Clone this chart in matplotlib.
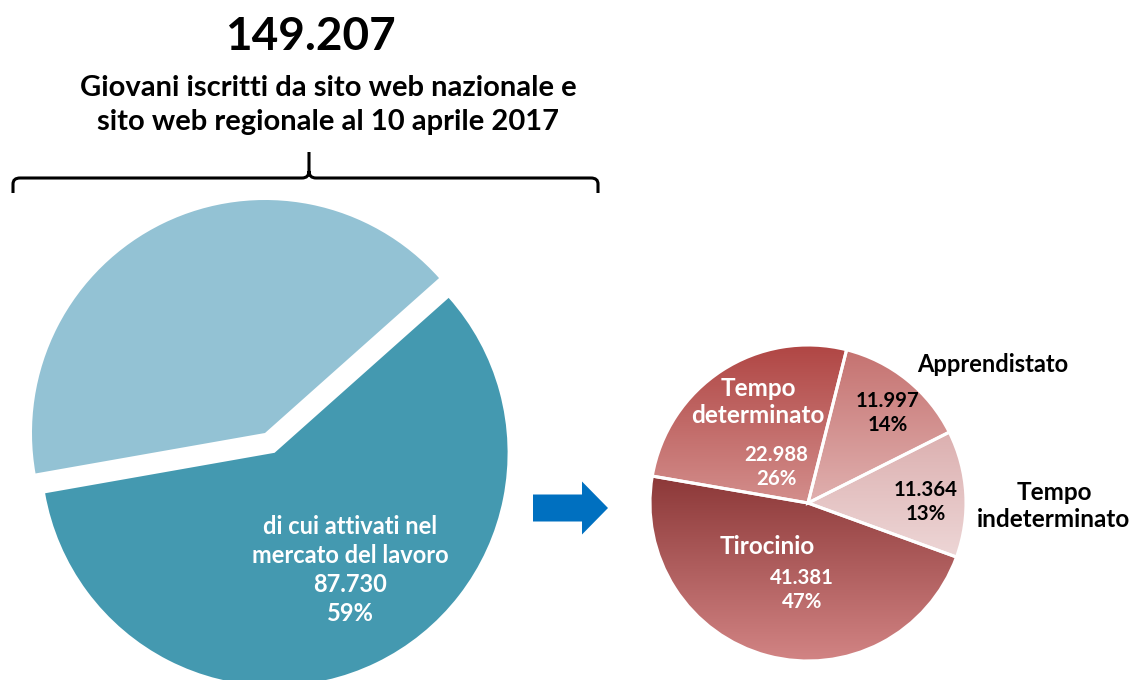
import matplotlib
matplotlib.use("Agg")
import matplotlib.pyplot as plt
import numpy as np
from matplotlib.path import Path
from matplotlib.patches import PathPatch, FancyArrow
from matplotlib.colors import LinearSegmentedColormap

plt.rcParams['font.family'] = ['Lato', 'DejaVu Sans']

# registrations
total_label = "149.207"
subtitle = "Giovani iscritti da sito web nazionale e\nsito web regionale al 10 aprile 2017"
main_values = [87730, 61477]          # attivati, non attivati
main_colors = ['#4499B0', '#93C2D4']

# contract types of the activated young people
contract_names = ['Tempo indeterminato', 'Apprendistato', 'Tempo determinato', 'Tirocinio']
contract_values = [11364, 11997, 22988, 41381]
contract_pcts = [13, 14, 26, 47]
contract_grad = [('#DCB0B0', '#EDD6D6'),
                 ('#C57270', '#E0B0AF'),
                 ('#B04644', '#D38E8C'),
                 ('#8C3838', '#D28484')]

W, H = 1133, 680
fig = plt.figure(figsize=(W / 100, H / 100), dpi=100, facecolor='white')
ax = fig.add_axes([0, 0, 1, 1])


def Y(py):
    # pixel rows counted from the top
    return H - py


fmt = lambda v: f"{v:,}".replace(',', '.')

# big pie, the activated share pulled out
wedges, _ = ax.pie(main_values, colors=main_colors, startangle=190,
                   center=(265, Y(433)), radius=233, explode=[22, 0],
                   wedgeprops=dict(linewidth=0), frame=True)

main_pct = round(100 * main_values[0] / sum(main_values))
ax.text(350, Y(570), f"di cui attivati nel\nmercato del lavoro\n{fmt(main_values[0])}\n{main_pct}%",
        ha='center', va='center', fontsize=17, fontweight='bold', color='white',
        linespacing=1.31)

# small pie with gradient-filled wedges
cwedges, _ = ax.pie(contract_values, startangle=-20, center=(808, Y(503)), radius=158,
                    wedgeprops=dict(linewidth=2.2, edgecolor='white'), frame=True)
for w, (c_top, c_bot) in zip(cwedges, contract_grad):
    ext = w.get_path().get_extents()
    cmap = LinearSegmentedColormap.from_list('g', [c_bot, c_top])
    grad = np.linspace(0, 1, 256).reshape(-1, 1)
    im = ax.imshow(grad, cmap=cmap, origin='lower', aspect='auto',
                   extent=[ext.x0, ext.x1, ext.y0, ext.y1], zorder=1)
    im.set_clip_path(w)
    w.set_facecolor('none')
    w.set_zorder(2)

lab_style = dict(ha='center', va='center', fontweight='bold')
num_style = dict(fontsize=14.7, linespacing=1.3, **lab_style)

ax.text(758, Y(402), "Tempo\ndeterminato", fontsize=17.5, color='white', linespacing=1.22, **lab_style)
ax.text(776, Y(467), f"{fmt(contract_values[2])}\n{contract_pcts[2]}%", color='white', **num_style)
ax.text(888, Y(413), f"{fmt(contract_values[1])}\n{contract_pcts[1]}%", color='black', **num_style)
ax.text(926, Y(502), f"{fmt(contract_values[0])}\n{contract_pcts[0]}%", color='black', **num_style)
ax.text(767, Y(547), "Tirocinio", fontsize=17.5, color='white', **lab_style)
ax.text(802, Y(590), f"{fmt(contract_values[3])}\n{contract_pcts[3]}%", color='white', **num_style)
ax.text(993, Y(365), "Apprendistato", fontsize=17, color='black', **lab_style)
ax.text(1054, Y(506), "Tempo\nindeterminato", fontsize=17.5, color='black',
        linespacing=1.22, **lab_style)

# arrow between the two pies
ax.add_patch(FancyArrow(533, Y(508), 75, 0, width=27, head_width=53, head_length=26,
                        length_includes_head=True, color='#0070C0', lw=0))

# heading
ax.text(310, Y(37), total_label, ha='center', va='center', fontsize=33, fontweight='bold')
ax.text(328, Y(105), subtitle, ha='center', va='center', fontsize=21, fontweight='bold',
        linespacing=1.34)

# curly brace over the big pie
verts = [(13, Y(193)), (13, Y(184)),
         (13, Y(178)), (20, Y(178)),
         (302, Y(178)),
         (309, Y(178)), (309, Y(171)),
         (309, Y(152)),
         (309, Y(171)),
         (309, Y(178)), (316, Y(178)),
         (591, Y(178)),
         (598, Y(178)), (598, Y(184)),
         (598, Y(193))]
codes = [Path.MOVETO, Path.LINETO,
         Path.CURVE3, Path.CURVE3,
         Path.LINETO,
         Path.CURVE3, Path.CURVE3,
         Path.LINETO,
         Path.MOVETO,
         Path.CURVE3, Path.CURVE3,
         Path.LINETO,
         Path.CURVE3, Path.CURVE3,
         Path.LINETO]
ax.add_patch(PathPatch(Path(verts, codes), fill=False, lw=2.2, edgecolor='black'))

ax.set_xlim(0, W)
ax.set_ylim(0, H)
ax.set_aspect('auto')
ax.axis('off')

fig.savefig('out.png', dpi=100, facecolor='white')
